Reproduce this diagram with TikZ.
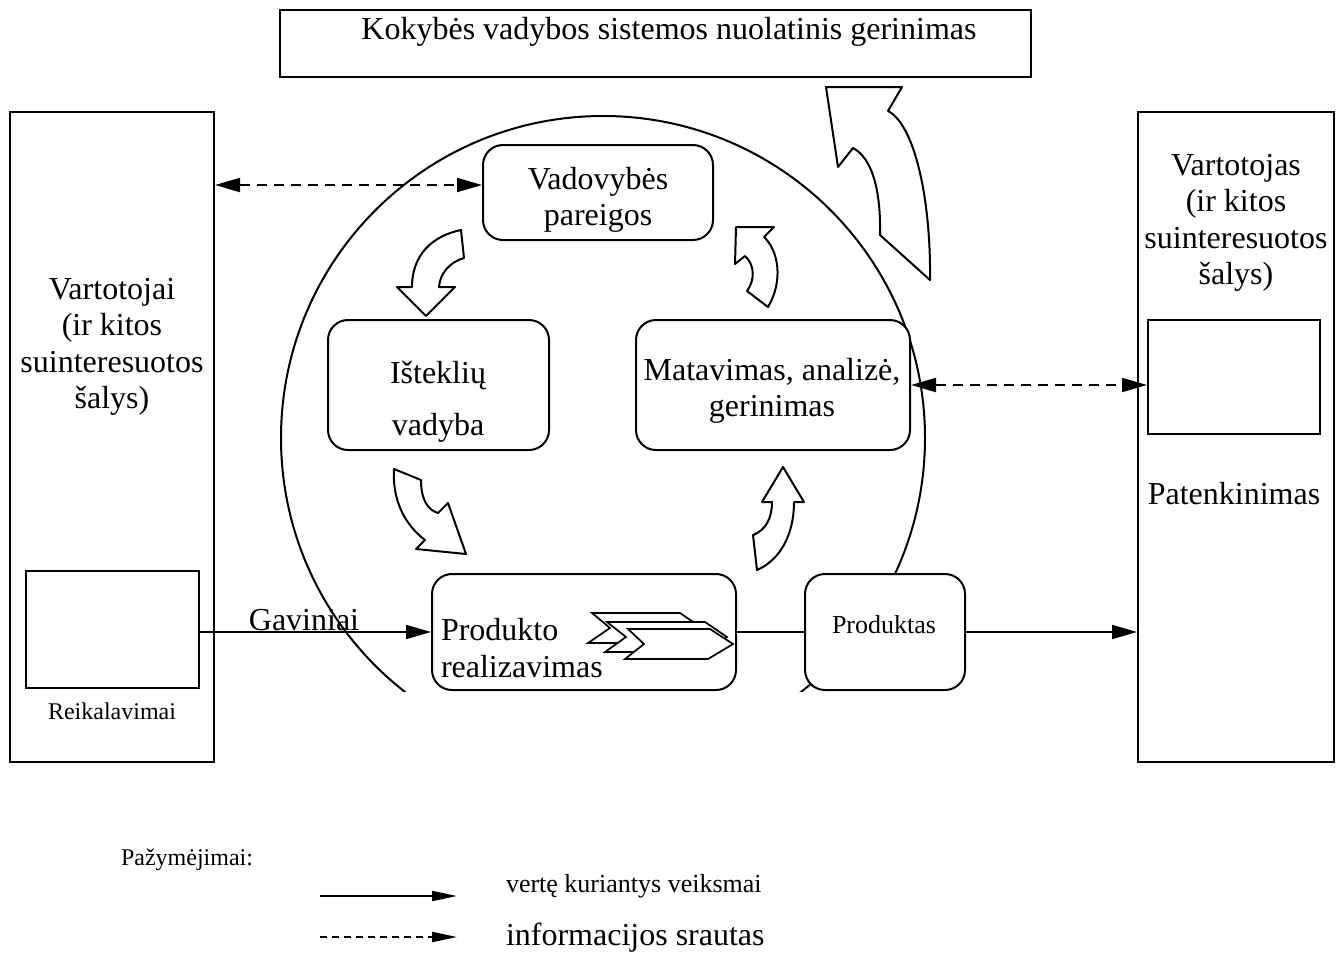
\documentclass[tikz,border=0pt]{standalone}
\usepackage{fontspec}
\setmainfont{Liberation Serif}
\usetikzlibrary{arrows.meta}
\begin{document}
\begin{tikzpicture}[x=1pt,y=-1pt, line width=2pt,
  box/.style={draw, fill=white, inner sep=0pt},
  rbox/.style={draw, fill=white, rounded corners=20pt, inner sep=0pt},
  big/.style={font=\fontsize{32}{36.5}\selectfont, align=center, inner sep=0pt},
  mid/.style={font=\fontsize{26}{30}\selectfont, inner sep=0pt},
  sml/.style={font=\fontsize{24}{28}\selectfont, inner sep=0pt},
  tip/.style={-{Triangle[length=25pt,width=14pt]}},
  dtip/.style={{Triangle[length=25pt,width=14pt]}-{Triangle[length=25pt,width=14pt]}, dash pattern=on 10pt off 7pt},
  ltip/.style={-{Triangle[length=25pt,width=10pt]}},
  barrow/.style={draw, fill=white, line join=round},
  chev/.style={draw, fill=white, line join=miter, line width=1.7pt}
]
\useasboundingbox (0,0) rectangle (1344,954);

% circle (lower part hidden)
\begin{scope}
\clip (0,0) rectangle (1344,691);
\draw (603,438) circle (322);
\end{scope}

% boxes
\node[box, minimum width=751, minimum height=67] (top) at (655.5,43.5) {};
\node[box, minimum width=204, minimum height=650] (lbox) at (112,437) {};
\node[box, minimum width=196, minimum height=650] (rbx) at (1236,437) {};
\node[box, minimum width=173, minimum height=117] (req) at (112.5,629.5) {};
\node[box, minimum width=172, minimum height=114] (rin) at (1234,377) {};
\node[rbox, minimum width=230, minimum height=95] (vad) at (598,192.5) {};
\node[rbox, minimum width=221, minimum height=130] (ist) at (438.5,385) {};
\node[rbox, minimum width=274, minimum height=130] (mat) at (773,385) {};
\node[rbox, minimum width=304, minimum height=116] (prod) at (584,632) {};
\node[rbox, minimum width=160, minimum height=116] (pdk) at (885,632) {};

% big curved arrow (top right)
\draw[barrow] (826,87) -- (902,87) -- (888,111)
  .. controls (915,125) and (931,200) .. (930,280)
  -- (880,235)
  .. controls (881,190) and (872,158) .. (853,148)
  -- (838,167) -- cycle;

% small curved arrows
\draw[barrow] (426,316) -- (397,287) -- (412,287)
  .. controls (412,255) and (432,236) .. (461,230)
  -- (464,258)
  .. controls (450,262) and (440,273) .. (439,287)
  -- (455,287) -- cycle;
\draw[barrow] (736,227) -- (774,227) -- (764,237)
  .. controls (778,250) and (784,280) .. (768,307)
  -- (747,291)
  .. controls (755,280) and (755,265) .. (745,256)
  -- (735,264) -- cycle;
\draw[barrow] (394,469) -- (421,480)
  .. controls (421,500) and (428,510) .. (438,513)
  -- (448,503) -- (466,554) -- (416,549) -- (425,540)
  .. controls (405,525) and (392,500) .. (394,469) -- cycle;
\draw[barrow] (783,467) -- (804,502) -- (794,502)
  .. controls (794,535) and (780,560) .. (757,570)
  -- (753,535)
  .. controls (766,530) and (772,518) .. (772,502)
  -- (762,502) -- cycle;

% product chevrons
\draw[chev] (592,613) -- (680,613) -- (702,628) -- (680,643) -- (588,643) -- (610,628) -- cycle;
\draw[chev] (607,622) -- (705,622) -- (727,637) -- (705,652) -- (605,652) -- (626,637) -- cycle;
\draw[chev] (628,629) -- (710,629) -- (733,644) -- (708,659) -- (625,659) -- (644,644) -- cycle;

% texts
\node[big] (t0) at (669,32) {Kokybės vadybos sistemos nuolatinis gerinimas};
\node[big] (tl) at (112,347) {Vartotojai\\(ir kitos\\suinteresuotos\\šalys)};
\node[big] (tr) at (1236,223) {Vartotojas\\(ir kitos\\suinteresuotos\\šalys)};
\node[big] (tpat) at (1234,494) {Patenkinimas};
\node[big] (tvad) at (598,200) {Vadovybės\\pareigos};
\node[big, font=\fontsize{32}{52}\selectfont] (tist) at (438,402) {Išteklių\\vadyba};
\node[big] (tmat) at (772,391) {Matavimas, analizė,\\gerinimas};
\node[big, align=left, anchor=west] (tprod) at (440,648) {Produkto\\realizavimas};
\node[mid] (tpdk) at (884,625) {Produktas};
\node[sml] (treq) at (112,711) {Reikalavimai};
\node[big] (tgav) at (304,620) {Gaviniai};

% connectors
\coordinate (ya) at (0,185);
\draw[tip] (req.east |- prod.west) -- (prod.west);
\draw (prod.east) -- (pdk.west);
\draw[tip] (pdk.east) -- (rbx.west |- pdk.east);
\draw[dtip] (lbox.east |- ya) -- (vad.west |- ya);
\draw[dtip] (mat.east) -- (rin.west |- mat.east);

% legend
\node[sml] (tleg) at (187,860) {Pažymėjimai:};
\coordinate (l1a) at (320,896);
\coordinate (l1b) at (457,896);
\coordinate (l2a) at (320,937);
\coordinate (l2b) at (457,937);
\draw[ltip] (l1a) -- (l1b);
\draw[ltip, dash pattern=on 7pt off 5pt] (l2a) -- (l2b);
\node[mid, anchor=west] (tl1) at (505,886) {vertę kuriantys veiksmai};
\node[big, anchor=west] (tl2) at (505,938) {informacijos srautas};
\end{tikzpicture}
\end{document}
